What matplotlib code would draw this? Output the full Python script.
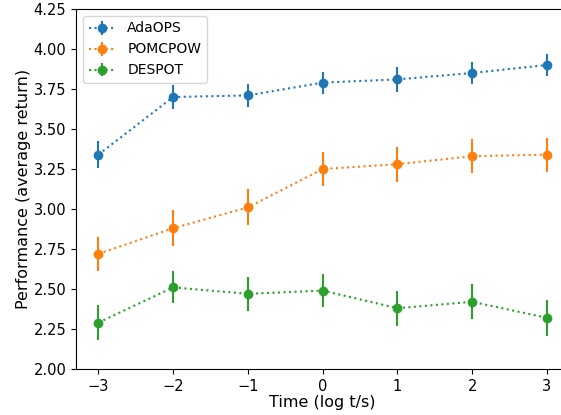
import matplotlib
matplotlib.use("Agg")
import matplotlib.pyplot as plt

times = [-3, -2, -1, 0, 1, 2, 3]

adaops = [3.34, 3.70, 3.71, 3.79, 3.81, 3.85, 3.90]
adaops_err = [0.083, 0.077, 0.074, 0.069, 0.077, 0.069, 0.066]

pomcpow = [2.72, 2.88, 3.01, 3.25, 3.28, 3.33, 3.34]
pomcpow_err = [0.108, 0.114, 0.112, 0.108, 0.109, 0.107, 0.106]

despot = [2.29, 2.51, 2.47, 2.49, 2.38, 2.42, 2.32]
despot_err = [0.11, 0.10, 0.108, 0.105, 0.11, 0.11, 0.112]

plt.rcParams['font.size'] = 10.5

fig = plt.figure(figsize=(5.61, 4.15), dpi=100)
# right part of the axes runs past the image edge, as in the reference crop
ax = fig.add_axes([76 / 561, 46 / 415, 493.4 / 561, 360 / 415])

ax.errorbar(times, adaops, yerr=adaops_err, fmt='o:', label='AdaOPS')
ax.errorbar(times, pomcpow, yerr=pomcpow_err, fmt='o:', label='POMCPOW')
ax.errorbar(times, despot, yerr=despot_err, fmt='o:', label='DESPOT')

ax.set_ylim(2.0, 4.25)
ax.set_xlabel('Time (log t/s)', fontsize=11.5, labelpad=1)
ax.set_ylabel('Performance (average return)', fontsize=11.5, labelpad=1.5)
ax.spines['right'].set_visible(False)
ax.legend(loc='upper left', fontsize=10)

fig.savefig('out.png', dpi=100)
